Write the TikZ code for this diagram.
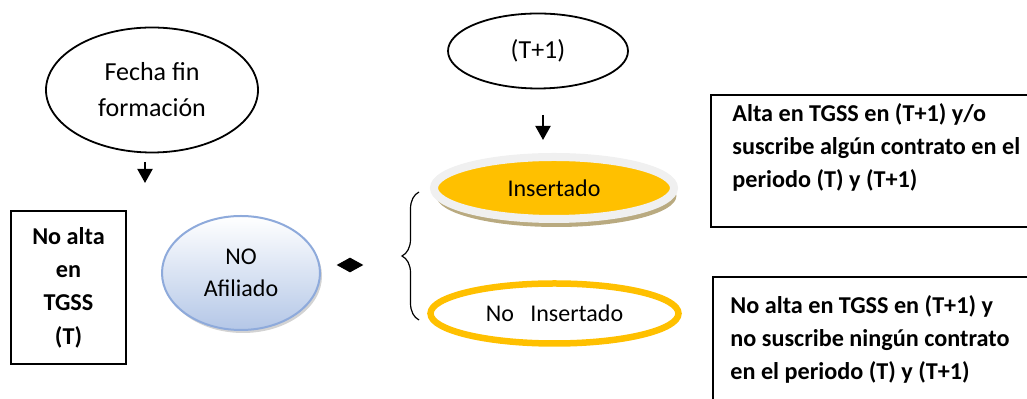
\documentclass[tikz,border=0pt]{standalone}
\usepackage{fontspec}
\setmainfont{Carlito}
\usetikzlibrary{shapes.geometric,positioning,calc,arrows.meta,shadows,decorations.pathreplacing}

\definecolor{insorange}{HTML}{FFC000}
\definecolor{insrim}{HTML}{F0F0F0}
\definecolor{insshadow}{HTML}{B9AA80}
\definecolor{afiborder}{HTML}{8EAADB}
\definecolor{afifill}{HTML}{B4C7E7}

\begin{document}
\begin{tikzpicture}[x=0.5pt,y=-0.5pt]
    \tikzset{bubble/.style={
        ellipse, draw, line width=0.9pt, inner sep=0pt, align=center, font=\fontsize{13}{18}\selectfont
      },
      boxed/.style={draw, line width=1pt, inner sep=0pt},
      boldtext/.style={font=\bfseries\fontsize{12.1}{16.7}\selectfont, inner sep=0pt},
      tick/.style={-{Triangle[width=7.5pt,length=7pt]}, line width=1pt}
    }

    \useasboundingbox (0,0) rectangle (1027,399);
    \clip (0,0) rectangle (1027,399);

    \node[bubble, minimum width=106pt, minimum height=62.5pt] (fecha) at (152,90) {Fecha fin\\formación};
    \node[bubble, minimum width=90pt, minimum height=37.5pt] (tmas) at (538,51) {(T+1)};

    \node[boxed, boldtext, align=center, minimum width=57.5pt, minimum height=76.5pt] (noalta) at (68.5,287.5) {No alta\\en\\TGSS\\(T)};

    \node[ellipse, draw=afiborder, line width=1pt, top color=white, bottom color=afifill,
      drop shadow={shadow xshift=1pt, shadow yshift=-1.5pt, opacity=0.35},
      minimum width=79pt, minimum height=57pt, inner sep=0pt, align=center,
      font=\fontsize{12}{16}\selectfont] (afiliado) at (241,273) {NO\\Afiliado};

    \node[diamond, fill=black, inner sep=0pt, minimum width=13.5pt, minimum height=7.5pt] (rombo) at (350,265) {};

    \coordinate (llavetop) at (419,192);
    \coordinate (llavebot) at (419,320);
    \draw[decorate, decoration={brace, amplitude=8.5pt}, line width=0.6pt] (llavebot) -- (llavetop);

    \node[ellipse, fill=insorange, draw=insrim, line width=4pt, inner sep=0pt,
      drop shadow={shadow xshift=1.2pt, shadow yshift=-4pt, fill=insshadow, opacity=1},
      minimum width=120pt, minimum height=31pt, font=\fontsize{12}{14}\selectfont] (ins) at (554,188) {Insertado};
    \node[ellipse, draw=insorange, line width=3.25pt, fill=white, inner sep=0pt,
      minimum width=124pt, minimum height=30pt, font=\fontsize{12}{14}\selectfont] (noins) at (554.5,313.5) {No\ \ \ Insertado};

    \node[boxed, anchor=north west, minimum width=170pt, minimum height=66pt] (altabox) at (710,94) {};
    \node[boldtext, align=left, anchor=west] (altatxt) at ($(altabox.west)+(22,-13.5)$) {Alta en TGSS en (T+1) y/o\\suscribe algún contrato en el\\periodo (T) y (T+1)};

    \node[boxed, anchor=north west, minimum width=170pt, minimum height=80pt] (noaltabox) at (712,276) {};
    \node[boldtext, align=left, anchor=west] (noaltatxt) at ($(noaltabox.west)+(18,-17.5)$) {No alta en TGSS en (T+1) y\\no suscribe ningún contrato\\en el periodo (T) y (T+1)};

    % flechas
    \coordinate (f1) at (145,162);
    \coordinate (f2) at (145,183);
    \draw[tick] (f1) -- (f2);
    \coordinate (t1) at (543,115);
    \coordinate (t2) at (543,140);
    \draw[tick] (t1) -- (t2);

  \end{tikzpicture}
\end{document}
